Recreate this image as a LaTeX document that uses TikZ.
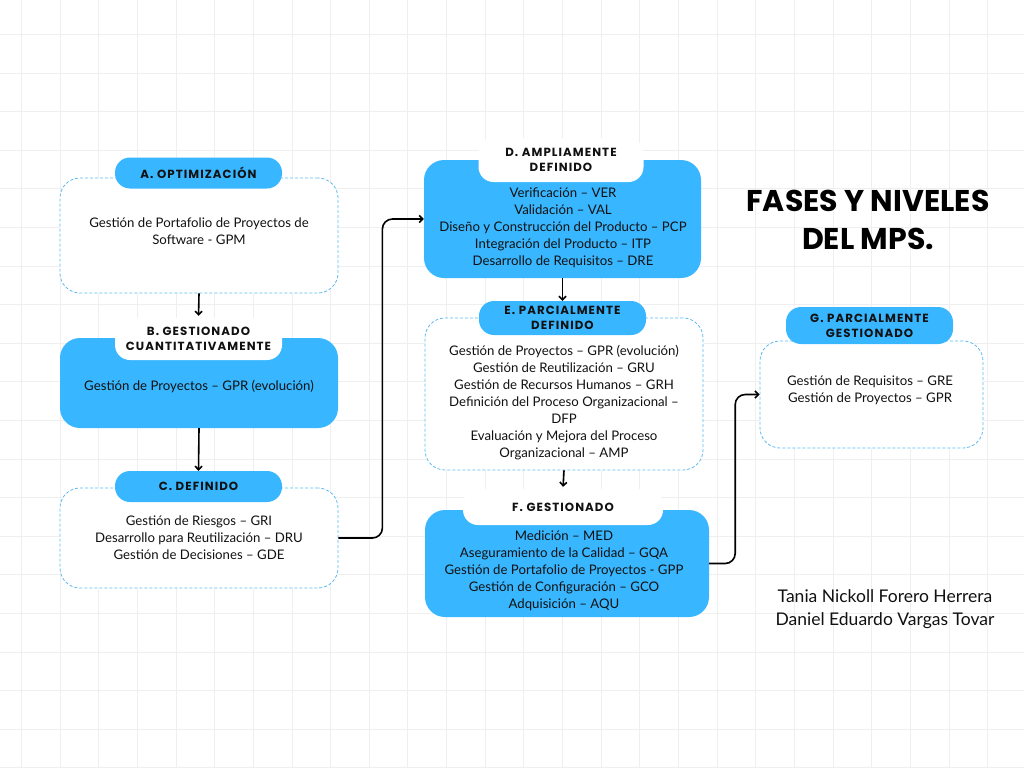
\documentclass[tikz,border=0pt]{standalone}
\usepackage{fontspec}
\setmainfont{Lato}
\newfontfamily\hdfont[LetterSpace=9]{Poppins}
\newfontfamily\ttlfont{Poppins}
\usetikzlibrary{arrows.meta,calc}
\definecolor{mpsblue}{HTML}{38B6FF}
\definecolor{dashblue}{HTML}{5DBBF2}
\definecolor{gridc}{HTML}{EFEFEF}
\definecolor{ink}{HTML}{111111}
\begin{document}
\begin{tikzpicture}[x=1pt,y=-1pt,
  outbox/.style={draw=dashblue, dash pattern=on 3pt off 2pt, line width=0.8pt, rounded corners=20pt, fill=white, inner sep=0pt},
  fillbox/.style={fill=mpsblue, rounded corners=20pt, inner sep=0pt},
  bluepill/.style={fill=mpsblue, rounded corners=15pt, inner sep=0pt, text=ink, align=center, font=\hdfont\bfseries\fontsize{11.8}{15}\selectfont},
  whitepill/.style={fill=white, rounded corners=15pt, inner sep=0pt, text=ink, align=center, font=\hdfont\bfseries\fontsize{11.8}{15}\selectfont},
  body/.style={text=ink, align=center, font=\fontsize{13.2}{17}\selectfont},
  conn/.style={draw=black, line width=1.6pt, -{Straight Barb[length=3.5pt,width=7pt]}}
]
\useasboundingbox (0,0) rectangle (1024,768);
\fill[white] (0,0) rectangle (1024,768);
\foreach \i in {0,...,26} \draw[gridc, line width=0.7pt] (21.3+\i*38.65,0) -- (21.3+\i*38.65,768);
\foreach \j in {0,...,19} \draw[gridc, line width=0.7pt] (0,34.3+\j*38.6) -- (1024,34.3+\j*38.6);

% Column 1
\node[outbox, minimum width=278pt, minimum height=115pt] (A) at (199,235.5) {};
\node[bluepill, minimum width=167pt, minimum height=31pt] (Al) at (198.5,173) {A. OPTIMIZACIÓN};
\node[body] (At) at (199,231) {Gestión de Portafolio de Proyectos de\\Software - GPM};

\node[fillbox, minimum width=278pt, minimum height=90pt] (B) at (199,383) {};
\node[whitepill, minimum width=167pt, minimum height=42pt] (Bl) at (198.5,339) {B. GESTIONADO\\CUANTITATIVAMENTE};
\node[body] (Bt) at (199,387) {Gestión de Proyectos – GPR (evolución)};

\node[outbox, minimum width=278pt, minimum height=100pt] (C) at (199,538) {};
\node[bluepill, minimum width=167pt, minimum height=31pt] (Cl) at (198.5,486.5) {C. DEFINIDO};
\node[body] (Ct) at (199,538) {Gestión de Riesgos – GRI\\Desarrollo para Reutilización – DRU\\Gestión de Decisiones – GDE};

% Column 2
\node[fillbox, minimum width=277pt, minimum height=118pt] (D) at (562.5,219) {};
\node[whitepill, minimum width=165pt, minimum height=44pt] (Dl) at (561,160) {D. AMPLIAMENTE\\DEFINIDO};
\node[body] (Dt) at (563,227.5) {Verificación – VER\\Validación – VAL\\Diseño y Construcción del Producto – PCP\\Integración del Producto – ITP\\Desarrollo de Requisitos – DRE};

\node[outbox, minimum width=278pt, minimum height=152pt] (E) at (564,394) {};
\node[bluepill, minimum width=167pt, minimum height=34pt] (El) at (562.5,318) {E. PARCIALMENTE\\DEFINIDO};
\node[body] (Et) at (564,403) {Gestión de Proyectos – GPR (evolución)\\Gestión de Reutilización – GRU\\Gestión de Recursos Humanos – GRH\\Definición del Proceso Organizacional –\\DFP\\Evaluación y Mejora del Proceso\\Organizacional – AMP};

\node[fillbox, minimum width=284pt, minimum height=107pt] (F) at (567,563.5) {};
\node[whitepill, minimum width=200pt, minimum height=36pt] (Fl) at (563,507) {F. GESTIONADO};
\node[body] (Ft) at (564,571) {Medición – MED\\Aseguramiento de la Calidad – GQA\\Gestión de Portafolio de Proyectos - GPP\\Gestión de Configuración – GCO\\Adquisición – AQU};

% Column 3
\node[outbox, minimum width=223pt, minimum height=107pt] (G) at (871.5,394.5) {};
\node[bluepill, minimum width=167pt, minimum height=37pt] (Gl) at (869.5,325.5) {G. PARCIALMENTE\\GESTIONADO};
\node[body] (Gt) at (870,390.5) {Gestión de Requisitos – GRE\\Gestión de Proyectos – GPR};

\node[font=\ttlfont\bfseries\fontsize{30}{38}\selectfont, align=center, text=black] (T) at (868,220) {FASES Y NIVELES\\DEL MPS.};
\node[font=\fontsize{17.5}{23}\selectfont, align=center, text=ink] (Au) at (885,609.5) {Tania Nickoll Forero Herrera\\Daniel Eduardo Vargas Tovar};

% Connectors
\draw[conn, shorten >=2pt] (A.south) -- (Bl.north);
\draw[conn] (B.south) -- (Cl.north);
\draw[conn] (D.south) -- (El.north);
\draw[conn, shorten >=2pt] (E.south) -- (Fl.north);
\draw[conn, rounded corners=10pt] (C.east) -- ++(44,0) |- (D.west);
\draw[conn, rounded corners=10pt] (F.east) -- ++(26,0) |- (G.west);
\end{tikzpicture}
\end{document}
